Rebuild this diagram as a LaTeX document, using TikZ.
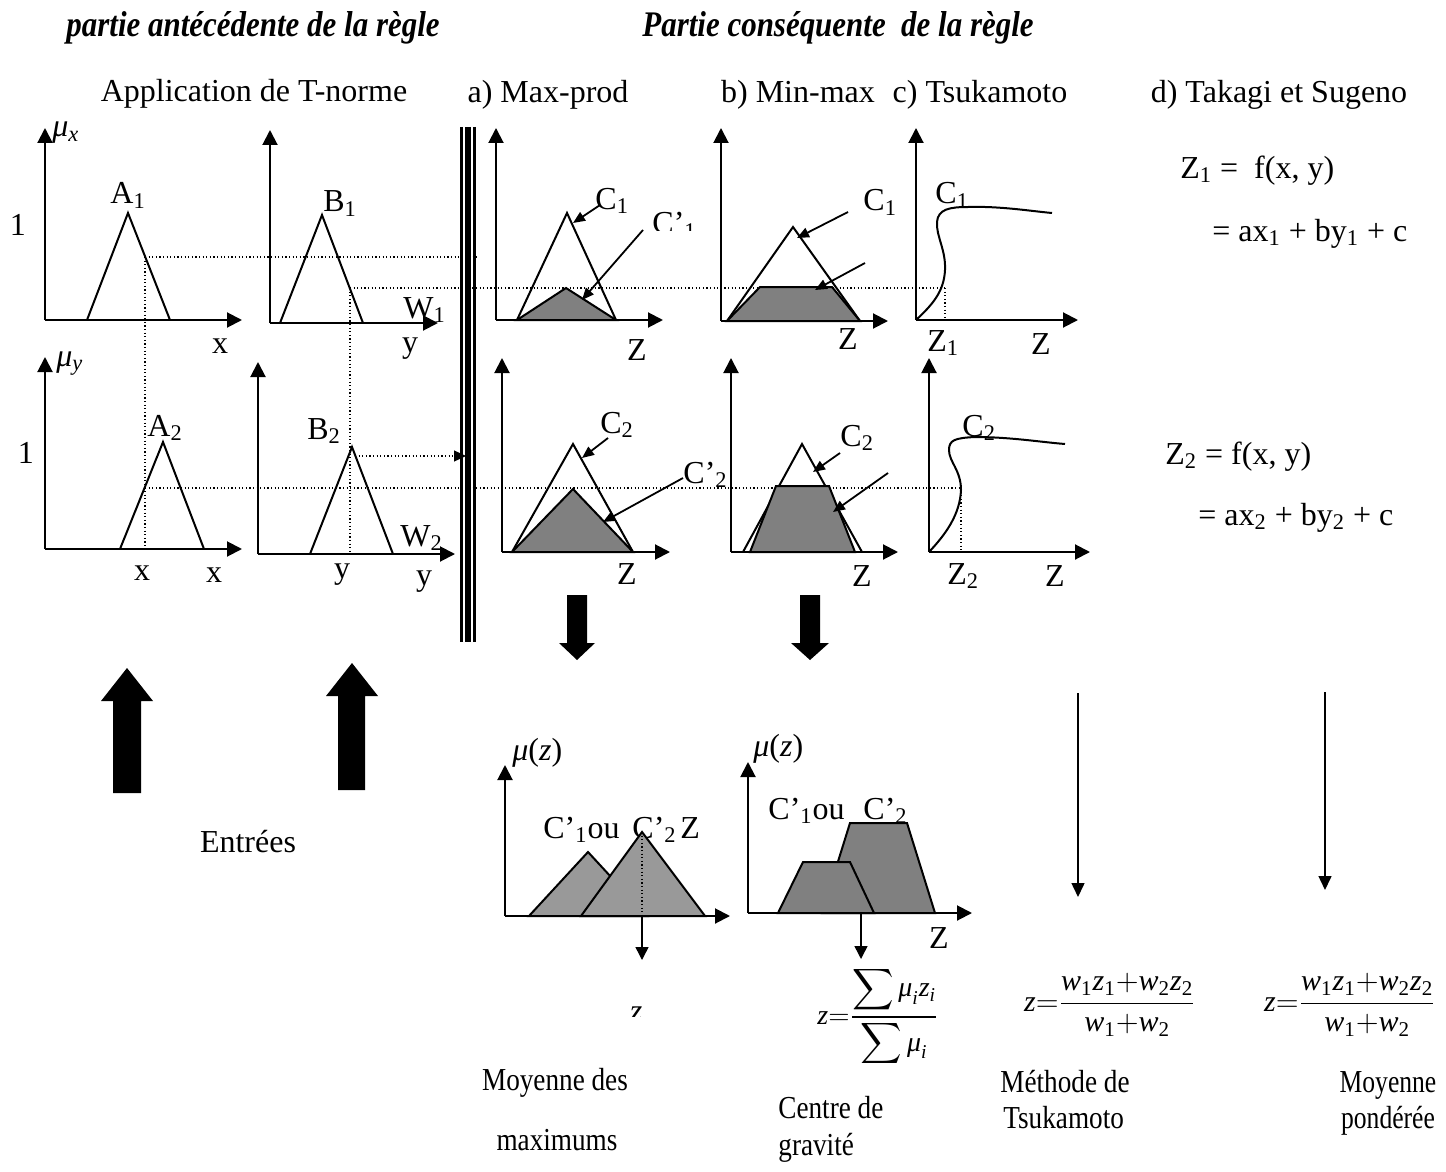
\documentclass[tikz,border=0pt]{standalone}
\usepackage{fix-cm}
\usepackage{amsmath}
\usepackage{graphicx}
\usepackage{fontspec}
\setmainfont{Liberation Serif}
\usetikzlibrary{arrows.meta}
\definecolor{midgray}{HTML}{808080}
\definecolor{litegray}{HTML}{999999}
\newcommand{\sbs}[1]{\textsubscript{#1}}
\newcommand{\mvar}[1]{\text{\itshape #1}}
\newcommand{\cnd}[1]{\scalebox{0.85}[1]{#1}}
\tikzset{
  lbl/.style={font=\fontsize{16}{19}\selectfont, inner sep=0pt},
  ttl/.style={font=\fontsize{18}{21}\selectfont\bfseries\itshape, inner sep=0pt, anchor=base},
  axis/.style={line width=1pt, -{Triangle[length=7.5pt,width=7.5pt]}},
  mf/.style={line width=1pt, line join=miter},
  gfill/.style={mf, fill=midgray},
  lfill/.style={mf, fill=litegray},
  dots/.style={line width=0.6pt, dash pattern=on 0.6pt off 1.2pt},
  lblarrow/.style={line width=0.9pt, -{Triangle[length=6pt,width=5pt]}},
  thinarrow/.style={line width=0.75pt, -{Triangle[length=7pt,width=6.5pt]}},
  smallarrow/.style={line width=0.75pt, -{Triangle[length=6.5pt,width=6.5pt]}}
}
\begin{document}
\begin{tikzpicture}[x=0.5pt,y=-0.5pt]
\useasboundingbox[fill=white] (0,0) rectangle (1446,1172);

% ---- titles ----
\node[ttl] (t1) at (253,37) {\scalebox{0.86}[1]{partie antécédente de la règle}};
\node[ttl] (t2) at (838,37) {\scalebox{0.86}[1]{Partie conséquente\ \ de la règle}};

\node[lbl, anchor=base] (hT) at (254,102) {Application de T-norme};
\node[lbl, anchor=base] (ha) at (548,103) {a) Max-prod};
\node[lbl, anchor=base] (hb) at (798,103) {b) Min-max};
\node[lbl, anchor=base] (hc) at (980,103) {c) Tsukamoto};
\node[lbl, anchor=base] (hd) at (1279,103) {d) Takagi et Sugeno};

% ---- dotted guide lines ----
\draw[dots] (145,257) -- (478,257);
\draw[dots] (145,257) -- (145,549);
\draw[dots] (350,288) -- (945,288);
\draw[dots] (350,288) -- (350,554);
\draw[dots] (945,288) -- (945,320);
\draw[dots] (145,488) -- (961,488);
\draw[dots] (961,488) -- (961,552);
\coordinate (b2peak) at (355,456);
\coordinate (bar2) at (466,456);
\draw[dots, -{Triangle[length=6pt,width=5.5pt]}] (b2peak) -- (bar2);

% ---- triple separator ----
\draw[line width=1.5pt] (461.5,127) -- (461.5,642);
\draw[line width=3.2pt] (468,127) -- (468,642);
\draw[line width=1.5pt] (474.5,127) -- (474.5,642);

% ---- antecedent graphs ----
% A1
\draw[mf] (87,320) -- (128,213) -- (170,320);
\draw[axis] (45,320) -- (45,128);
\draw[axis] (45,320) -- (242,320);
\node[lbl, anchor=base west] (mux) at (52,137) {\textit{μ}\textsubscript{\textit{x}}};
\node[lbl, anchor=base] (one1) at (18,235) {1};
\node[lbl, anchor=base west] (lA1) at (110,204) {A\sbs{1}};
\node[lbl, anchor=base] (lx1) at (220,353) {x};
% B1
\draw[mf] (280,323) -- (322,215) -- (363,323);
\draw[axis] (270,323) -- (270,130);
\draw[axis] (270,323) -- (438,323);
\node[lbl, anchor=base west] (lB1) at (323,212) {B\sbs{1}};
\node[lbl, anchor=base west] (lW1) at (403,318) {W\sbs{1}};
\node[lbl, anchor=base] (ly1) at (410,352) {y};
% A2
\draw[mf] (120,549) -- (163,442) -- (204,549);
\draw[axis] (45,549) -- (45,357);
\draw[axis] (45,549) -- (242,549);
\node[lbl, anchor=base west] (muy) at (56,366) {\textit{μ}\textsubscript{\textit{y}}};
\node[lbl, anchor=base] (one2) at (26,463) {1};
\node[lbl, anchor=base west] (lA2) at (147,436) {A\sbs{2}};
\node[lbl, anchor=base] (lx2a) at (142,580) {x};
\node[lbl, anchor=base] (lx2b) at (214,582) {x};
% B2
\draw[mf] (310,554) -- (352,447) -- (393,554);
\draw[axis] (258,554) -- (258,362);
\draw[axis] (258,554) -- (455,554);
\node[lbl, anchor=base west] (lB2) at (307,439) {B\sbs{2}};
\node[lbl, anchor=base west] (lW2) at (400,546) {W\sbs{2}};
\node[lbl, anchor=base] (ly2a) at (342,578) {y};
\node[lbl, anchor=base] (ly2b) at (424,585) {y};

% ---- consequent row 1 ----
% a) max-prod
\draw[mf] (517,320) -- (567,213) -- (616,320);
\draw[gfill] (517,320) -- (566,288) -- (616,320) -- cycle;
\draw[axis] (496,320) -- (496,128);
\draw[axis] (496,320) -- (663,320);
\node[lbl, anchor=base west] (lC1a) at (595,209) {C\sbs{1}};
\begin{scope}
  \clip (640,200) rectangle (710,230);
  \node[lbl, anchor=base west] (lCp1a) at (652,234) {C’\sbs{1}};
\end{scope}
\coordinate (c1as) at (600,205); \coordinate (c1ae) at (573,223);
\coordinate (cp1as) at (643,230); \coordinate (cp1ae) at (582,300);
\draw[lblarrow] (c1as) -- (c1ae);
\draw[lblarrow] (cp1as) -- (cp1ae);
\node[lbl, anchor=base] (lZa1) at (637,360) {Z};
% b) min-max
\draw[mf] (727,321) -- (793,227) -- (860,321);
\draw[gfill] (727,321) -- (760,287) -- (832,287) -- (860,321) -- cycle;
\draw[axis] (721,321) -- (721,128);
\draw[axis] (721,321) -- (888,321);
\node[lbl, anchor=base west] (lC1b) at (863,211) {C\sbs{1}};
\coordinate (c1bs) at (848,212); \coordinate (c1be) at (797,238);
\coordinate (cp1bs) at (865,263); \coordinate (cp1be) at (815,290);
\draw[lblarrow] (c1bs) -- (c1be);
\draw[lblarrow] (cp1bs) -- (cp1be);
\node[lbl, anchor=base] (lZb1) at (848,349) {Z};
% c) Tsukamoto
\draw[line width=1pt] (916,320) .. controls (932,305) and (944,292) .. (945,270)
   .. controls (946,250) and (936,236) .. (937,222)
   .. controls (938,209) and (950,207) .. (968,207)
   .. controls (1000,206) and (1030,211) .. (1052,213);
\draw[axis] (916,320) -- (916,128);
\draw[axis] (916,320) -- (1078,320);
\node[lbl, anchor=base west] (lC1c) at (935,204) {C\sbs{1}};
\node[lbl, anchor=base west] (lZ1) at (927,351) {Z\sbs{1}};
\node[lbl, anchor=base] (lZc1) at (1041,354) {Z};
% d) Takagi-Sugeno
\node[lbl, anchor=base west] (eq1a) at (1180,178) {Z\sbs{1} =\ \ f(x, y)};
\node[lbl, anchor=base west] (eq1b) at (1212,241) {= ax\sbs{1} + by\sbs{1} + c};

% ---- consequent row 2 ----
% a)
\draw[mf] (512,552) -- (573,444) -- (633,552);
\draw[gfill] (512,552) -- (573,489) -- (633,552) -- cycle;
\draw[axis] (502,552) -- (502,358);
\draw[axis] (502,552) -- (670,552);
\node[lbl, anchor=base west] (lC2a) at (600,433) {C\sbs{2}};
\node[lbl, anchor=base west] (lCp2a) at (683,483) {C’\sbs{2}};
\coordinate (c2as) at (608,438); \coordinate (c2ae) at (582,458);
\coordinate (cp2as) at (683,478); \coordinate (cp2ae) at (603,522);
\draw[lblarrow] (c2as) -- (c2ae);
\draw[lblarrow] (cp2as) -- (cp2ae);
\node[lbl, anchor=base] (lZa2) at (627,584) {Z};
% b)
\draw[mf] (743,552) -- (802,444) -- (862,552);
\draw[gfill] (750,552) -- (776,486) -- (829,486) -- (855,552) -- cycle;
\draw[axis] (731,552) -- (731,358);
\draw[axis] (731,552) -- (898,552);
\node[lbl, anchor=base west] (lC2b) at (840,446) {C\sbs{2}};
\coordinate (c2bs) at (840,453); \coordinate (c2be) at (813,472);
\coordinate (cp2bs) at (888,473); \coordinate (cp2be) at (833,512);
\draw[lblarrow] (c2bs) -- (c2be);
\draw[lblarrow] (cp2bs) -- (cp2be);
\node[lbl, anchor=base] (lZb2) at (862,586) {Z};
% c)
\node[lbl, anchor=base west] (lC2c) at (962,436) {C\sbs{2}};
\draw[line width=1pt] (929,552) .. controls (945,535) and (960,515) .. (961,490)
   .. controls (961,470) and (949,462) .. (949,450)
   .. controls (949,440) and (955,438) .. (975,437)
   .. controls (1010,437) and (1040,442) .. (1065,444);
\draw[axis] (929,552) -- (929,358);
\draw[axis] (929,552) -- (1090,552);
\node[lbl, anchor=base west] (lZ2) at (947,584) {Z\sbs{2}};
\node[lbl, anchor=base] (lZc2) at (1055,586) {Z};
% d)
\node[lbl, anchor=base west] (eq2a) at (1165,464) {Z\sbs{2} = f(x, y)};
\node[lbl, anchor=base west] (eq2b) at (1198,525) {= ax\sbs{2} + by\sbs{2} + c};

% ---- block arrows ----
\fill (113,793) -- (113,701) -- (101,701) -- (127,668) -- (153,701) -- (141,701) -- (141,793) -- cycle;
\fill (338,790) -- (338,696) -- (326,696) -- (352,663) -- (378,696) -- (365,696) -- (365,790) -- cycle;
\fill (567,595) -- (587,595) -- (587,643) -- (595,643) -- (577,660) -- (559,643) -- (567,643) -- cycle;
\fill (800,595) -- (820,595) -- (820,643) -- (829,643) -- (810,660) -- (791,643) -- (800,643) -- cycle;
\node[lbl, anchor=base] (entrees) at (248,852) {Entrées};

% ---- thin arrows (Tsukamoto, Sugeno) ----
\coordinate (tsA) at (1078,693); \coordinate (tsB) at (1078,897);
\coordinate (suA) at (1325,692); \coordinate (suB) at (1325,890);
\draw[thinarrow] (tsA) -- (tsB);
\draw[thinarrow] (suA) -- (suB);

% ---- bottom left: mean of maxima ----
\node[lbl, anchor=base west] (muz1) at (512,760) {\textit{μ}(\textit{z})};
\node[lbl, anchor=base west] (lCp1ou) at (543,838) {C’\sbs{1}ou};
\node[lbl, anchor=base west] (lCp2ou) at (632,838) {C’\sbs{2}};
\node[lbl, anchor=base west] (lZou) at (680,838) {Z};
\draw[lfill] (529,916) -- (588,852) -- (647,916) -- cycle;
\draw[lfill] (581,916) -- (642,832) -- (705,916) -- cycle;
\draw[dots] (642,832) -- (642,916);
\draw[axis] (505,916) -- (505,765);
\draw[axis] (505,916) -- (730,916);
\coordinate (mmA) at (642,916); \coordinate (mmB) at (642,960);
\draw[smallarrow] (mmA) -- (mmB);
\begin{scope}
  \clip (620,995) rectangle (660,1016);
  \node[lbl, anchor=base, font=\fontsize{16}{19}\selectfont\itshape] (zcut) at (636,1021) {z};
\end{scope}

% ---- bottom right: centre of gravity ----
\node[lbl, anchor=base west] (muz2) at (753,756) {\textit{μ}(\textit{z})};
\node[lbl, anchor=base west] (lCq1ou) at (768,819) {C’\sbs{1}ou};
\node[lbl, anchor=base west] (lCq2) at (863,819) {C’\sbs{2}};
\draw[gfill] (822,913) -- (850,823) -- (907,823) -- (935,913) -- cycle;
\draw[gfill] (778,913) -- (803,862) -- (850,862) -- (874,913) -- cycle;
\draw[axis] (748,913) -- (748,762);
\draw[axis] (748,913) -- (972,913);
\node[lbl, anchor=base] (lZcg) at (939,948) {Z};
\coordinate (cgA) at (861,913); \coordinate (cgB) at (861,959);
\draw[smallarrow] (cgA) -- (cgB);

% ---- formulas ----
\begin{scope}
  \clip (800,960) rectangle (960,1062);
  \node[font=\fontsize{14}{17}\selectfont, inner sep=0pt] (fcg) at (878,1017)
    {$\mvar{z}{=}\dfrac{\displaystyle\sum\mvar{μ}_{\mvar{i}}\mvar{z}_{\mvar{i}}}{\displaystyle\sum\mvar{μ}_{\mvar{i}}}$};
\end{scope}
\node[font=\fontsize{15}{18}\selectfont, inner sep=0pt] (fts) at (1110,1005)
  {$\mvar{z}{=}\dfrac{\mvar{w}_{\text{1}}\mvar{z}_{\text{1}}{+}\mvar{w}_{\text{2}}\mvar{z}_{\text{2}}}{\mvar{w}_{\text{1}}{+}\mvar{w}_{\text{2}}}$};
\node[font=\fontsize{15}{18}\selectfont, inner sep=0pt] (fsu) at (1350,1005)
  {$\mvar{z}{=}\dfrac{\mvar{w}_{\text{1}}\mvar{z}_{\text{1}}{+}\mvar{w}_{\text{2}}\mvar{z}_{\text{2}}}{\mvar{w}_{\text{1}}{+}\mvar{w}_{\text{2}}}$};

% ---- method names ----
\node[lbl, anchor=base] (m1a) at (555,1090) {\cnd{Moyenne des}};
\node[lbl, anchor=base] (m1b) at (557,1150) {\cnd{maximums}};
\node[lbl, anchor=base west] (m2a) at (778,1118) {\cnd{Centre de}};
\node[lbl, anchor=base west] (m2b) at (778,1155) {\cnd{gravité}};
\node[lbl, anchor=base west] (m3a) at (1000,1092) {\cnd{Méthode de}};
\node[lbl, anchor=base west] (m3b) at (1003,1128) {\cnd{Tsukamoto}};
\node[lbl, anchor=base] (m4a) at (1388,1092) {\scalebox{0.8}[1]{Moyenne}};
\node[lbl, anchor=base] (m4b) at (1388,1128) {\scalebox{0.8}[1]{pondérée}};
\end{tikzpicture}
\end{document}
